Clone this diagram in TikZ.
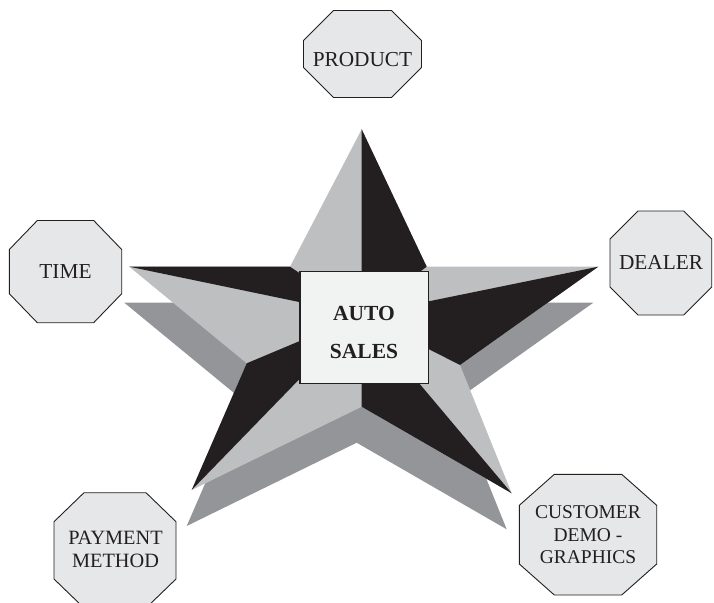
\documentclass[tikz,border=0pt]{standalone}
\usepackage{fontspec}
\setmainfont{Liberation Serif}
\usetikzlibrary{calc}
\definecolor{starlight}{HTML}{BEBFC1}
\definecolor{stardark}{HTML}{231F20}
\definecolor{starshadow}{HTML}{939598}
\definecolor{octfill}{HTML}{E6E7E8}
\definecolor{boxfill}{HTML}{F1F2F2}
\definecolor{ink}{HTML}{231F20}
\newcommand\octo[6]{\draw[octstyle] (#1+#5,#2) -- (#3-#5,#2) -- (#3,#2+#6) -- (#3,#4-#6) -- (#3-#5,#4) -- (#1+#5,#4) -- (#1,#4-#6) -- (#1,#2+#6) -- cycle;}
\begin{document}
\begin{tikzpicture}[x=1pt,y=-1pt,
  octstyle/.style={draw=ink, fill=octfill, line width=0.9pt, line join=miter},
  lightface/.style={fill=starlight},
  darkface/.style={fill=stardark},
  shadowface/.style={fill=starshadow},
  octlabel/.style={font=\fontsize{21.3}{24}\selectfont, text=ink, inner sep=0pt, align=center},
  centerbox/.style={draw=ink, fill=boxfill, line width=1.2pt, minimum width=128.3pt, minimum height=111.8pt, inner sep=0pt},
  centerlabel/.style={font=\bfseries\fontsize{21.5}{38.5}\selectfont, text=ink, inner sep=0pt, align=center}]
\useasboundingbox (0,0) rectangle (714,602);
% star geometry
\coordinate (T0) at (361.7,129.3);
\coordinate (I0) at (426.7,266.7);
\coordinate (T1) at (598.3,266.7);
\coordinate (I1) at (460,365);
\coordinate (T2) at (511.7,493.3);
\coordinate (I2) at (361.7,406.7);
\coordinate (T3) at (191.7,490);
\coordinate (I3) at (246.7,363.3);
\coordinate (T4) at (129.3,266.7);
\coordinate (I4) at (290,266.7);
\coordinate (C) at (361.7,315);
% shadow copy
\fill[shadowface] ($(T0)+(-5,36)$) -- ($(I0)+(-5,36)$) -- ($(T1)+(-5,36)$) -- ($(I1)+(-5,36)$) -- ($(T2)+(-5,36)$) -- ($(I2)+(-5,36)$) -- ($(T3)+(-5,36)$) -- ($(I3)+(-5,36)$) -- ($(T4)+(-5,36)$) -- ($(I4)+(-5,36)$) -- cycle;
% front star
\fill[lightface] (T0) -- (I0) -- (T1) -- (I1) -- (T2) -- (I2) -- (T3) -- (I3) -- (T4) -- (I4) -- cycle;
\fill[darkface] (C) -- (T0) -- (I0) -- cycle;
\fill[darkface] (C) -- (T1) -- (I1) -- cycle;
\fill[darkface] (C) -- (T2) -- (I2) -- cycle;
\fill[darkface] (C) -- (T3) -- (I3) -- cycle;
\fill[darkface] (C) -- (T4) -- (I4) -- cycle;
% centre box
\node[centerbox] (autobox) at (364.15,327.4) {};
\node[centerlabel] (autolabel) at (364,332.5) {AUTO\\SALES};
% octagons
\octo{303.5}{10.5}{421.5}{97.5}{30}{30}
\node[octlabel] (product) at (362.5,60) {PRODUCT};
\octo{9.3}{220.5}{121.7}{322.7}{28}{29}
\node[octlabel] (time) at (65.5,271.5) {TIME};
\octo{610}{211}{711.7}{315}{28}{28}
\node[octlabel] (dealer) at (661,262) {DEALER};
\octo{54}{492.7}{176}{608}{30}{29}
\node[octlabel, font=\fontsize{20.3}{23.5}\selectfont] (payment) at (115.5,549.5) {PAYMENT\\METHOD};
\octo{519.3}{474.3}{656.7}{595}{35}{31}
\node[octlabel, font=\fontsize{19.5}{22.5}\selectfont] (customer) at (588,535) {CUSTOMER\\DEMO -\\GRAPHICS};
\end{tikzpicture}
\end{document}
